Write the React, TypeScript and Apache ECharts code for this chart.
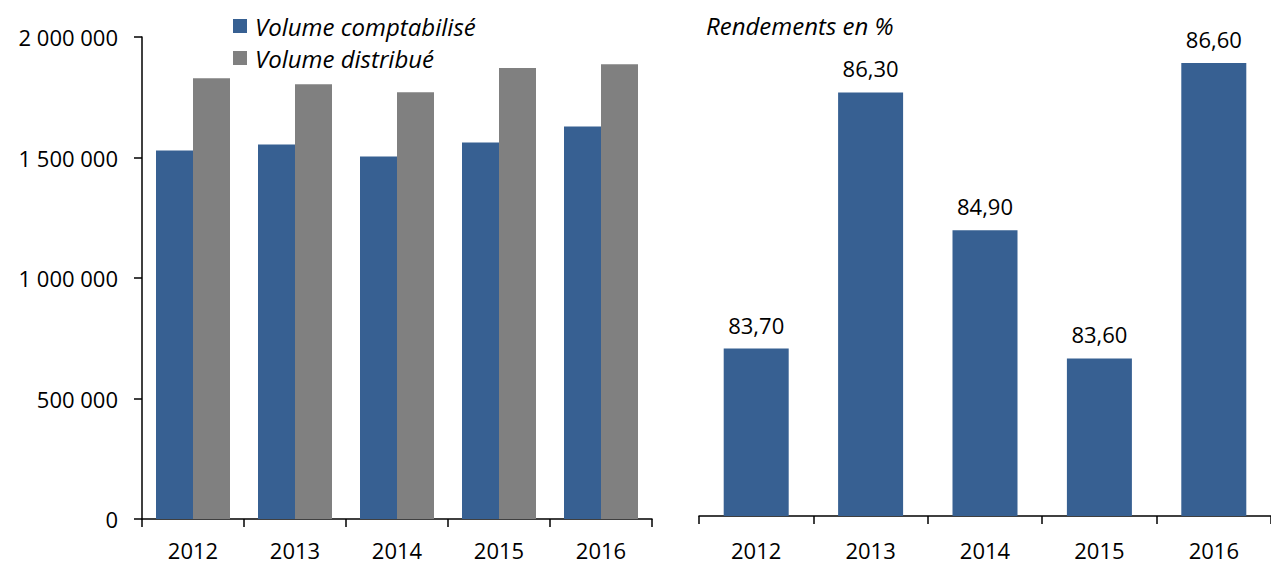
import React, { useEffect, useRef } from "react";
import * as echarts from "echarts";

const years = ["2012", "2013", "2014", "2015", "2016"];
const volumeComptabilise = [1529000, 1554000, 1504000, 1562000, 1629000];
const volumeDistribue = [1829000, 1804000, 1771000, 1871000, 1887000];
const rendements = [83.7, 86.3, 84.9, 83.6, 86.6];

const FONT = "Open Sans";
const BLUE = "#376092";
const GRAY = "#808080";

const fmtSpace = (v: number) =>
  String(Math.round(v)).replace(/\B(?=(\d{3})+(?!\d))/g, " ");

export default function App() {
  const ref = useRef<HTMLDivElement>(null);
  useEffect(() => {
    if (!ref.current) return;
    const chart = echarts.init(ref.current, undefined, { renderer: "svg" });
    const axisLine = { show: true, lineStyle: { color: "#000", width: 1.5 } };
    const axisTick = { show: true, length: 8, lineStyle: { color: "#000", width: 1.5 } };
    chart.setOption({
      animation: false,
      textStyle: { fontFamily: FONT },
      title: {
        text: "Rendements en %",
        left: 706,
        top: 12,
        padding: 0,
        textStyle: { fontFamily: FONT, fontStyle: "italic", fontWeight: "normal", fontSize: 24, lineHeight: 26, color: "#000" },
      },
      legend: {
        orient: "vertical",
        left: 233,
        top: 14,
        padding: 0,
        itemWidth: 14,
        itemHeight: 14,
        itemGap: 8,
        icon: "rect",
        data: ["Volume comptabilisé", "Volume distribué"],
        textStyle: { fontFamily: FONT, fontStyle: "italic", fontSize: 24, color: "#000", lineHeight: 24, padding: [0, 0, 0, 3] },
      },
      grid: [
        { left: 142, top: 37, width: 510, height: 482, containLabel: false },
        { left: 699, top: 23.5, width: 580, height: 492.5, containLabel: false },
      ],
      xAxis: [
        {
          type: "category",
          gridIndex: 0,
          data: years,
          axisLine,
          axisTick,
          axisLabel: { color: "#000", fontSize: 22, lineHeight: 22, margin: 20, fontFamily: FONT },
        },
        {
          type: "category",
          gridIndex: 1,
          data: years,
          axisLine,
          axisTick,
          axisLabel: { color: "#000", fontSize: 22, lineHeight: 22, margin: 23, fontFamily: FONT },
        },
      ],
      yAxis: [
        {
          type: "value",
          gridIndex: 0,
          min: 0,
          max: 2000000,
          interval: 500000,
          axisLine,
          axisTick,
          splitLine: { show: false },
          axisLabel: { color: "#000", fontSize: 22, margin: 24, fontFamily: FONT, formatter: fmtSpace },
        },
        {
          type: "value",
          gridIndex: 1,
          min: 82,
          max: 87,
          show: false,
          splitLine: { show: false },
        },
      ],
      series: [
        {
          name: "Volume comptabilisé",
          type: "bar",
          xAxisIndex: 0,
          yAxisIndex: 0,
          data: volumeComptabilise,
          barWidth: 37,
          barGap: "0%",
          itemStyle: { color: BLUE },
        },
        {
          name: "Volume distribué",
          type: "bar",
          xAxisIndex: 0,
          yAxisIndex: 0,
          data: volumeDistribue,
          barWidth: 37,
          barGap: "0%",
          itemStyle: { color: GRAY },
        },
        {
          name: "Rendements",
          type: "bar",
          xAxisIndex: 1,
          yAxisIndex: 1,
          data: rendements,
          barWidth: 65,
          itemStyle: { color: BLUE },
          label: {
            show: true,
            position: "top",
            distance: 13,
            color: "#000",
            fontSize: 22,
            lineHeight: 22,
            fontFamily: FONT,
            formatter: (p: any) => Number(p.value).toFixed(2).replace(".", ","),
          },
        },
      ],
    });
    return () => chart.dispose();
  }, []);
  return (
    <div
      ref={ref}
      style={{ position: "fixed", left: 0, top: 0, width: 1271, height: 565, background: "#fff" }}
    />
  );
}
